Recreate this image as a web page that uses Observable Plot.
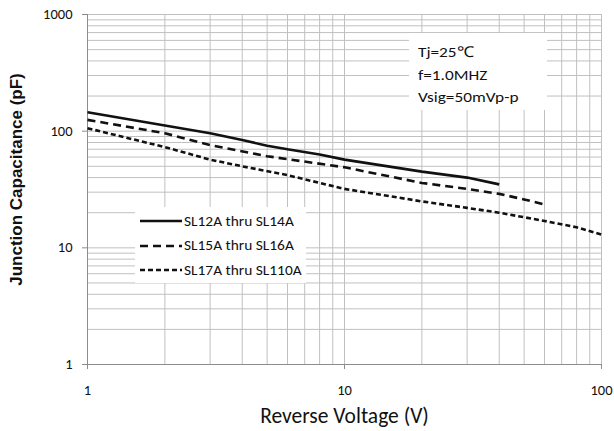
<!DOCTYPE html>
<html>
<head>
<meta charset="utf-8">
<script src="https://cdn.jsdelivr.net/npm/d3@7"></script>
<script src="https://cdn.jsdelivr.net/npm/@observablehq/plot@0.6"></script>
<style>
  body { margin: 0; background: #fff; }
  #wrap { position: relative; width: 614px; height: 431px; font-family: Carlito, "Liberation Sans Narrow", "Liberation Sans", sans-serif; }
  .box { position: absolute; background: #fff; }
  .note { left: 409px; top: 33px; width: 138px; height: 77px; font-size: 15px; color: #111; }
  .note div { position: absolute; left: 9px; line-height: 1; transform: scaleX(1.15); transform-origin: left center; white-space: nowrap; }
  .legend { left: 135px; top: 207px; width: 171px; height: 76px; font-size: 14px; color: #111; }
  .legend .row { position: absolute; left: 5px; height: 14px; display: flex; align-items: center; white-space: nowrap; }
  .legend span { display: inline-block; transform: scaleX(1.1); transform-origin: left center; }
  .legend svg { margin-right: 2px; }
</style>
</head>
<body>
<div id="wrap"></div>
<script>
// Data
const voltsA = [1, 2, 3, 4, 5, 6, 8, 10, 20, 30, 40];
const capA   = [145, 112, 96, 84, 75, 70, 63, 57, 45, 40, 35];
const voltsB = [1, 2, 3, 5, 10, 20, 30, 40, 50, 60];
const capB   = [125, 96, 76, 61, 49, 36, 32, 29, 26, 23.5];
const voltsC = [1, 2, 3, 4, 6, 8, 10, 20, 30, 40, 60, 80, 100];
const capC   = [106, 73, 57, 50, 42, 36, 32, 25, 22, 20, 17, 15, 13];
const seriesNames = ["SL12A thru SL14A", "SL15A thru SL16A", "SL17A thru SL110A"];
const dashes = [null, "8,5", "5,3"];
const xMajor = [1, 10, 100];
const yMajor = [1, 10, 100, 1000];
const xMinor = [2,3,4,5,6,7,8,9,20,30,40,50,60,70,80,90];
const yMinor = [2,3,4,5,6,7,8,9,20,30,40,50,60,70,80,90,200,300,400,500,600,700,800,900];

const rows = (xs, ys, s) => xs.map((x, i) => ({x, y: ys[i], s}));
const data = [
  ...rows(voltsA, capA, seriesNames[0]),
  ...rows(voltsB, capB, seriesNames[1]),
  ...rows(voltsC, capC, seriesNames[2])
];

const font = 'Carlito, "Liberation Sans Narrow", "Liberation Sans", sans-serif';

const chart = Plot.plot({
  width: 614,
  height: 431,
  marginLeft: 87,
  marginRight: 13,
  marginTop: 14,
  marginBottom: 67,
  style: { fontFamily: font, fontSize: "14.5px", color: "#111", background: "#fff" },
  x: { type: "log", domain: [1, 100] },
  y: { type: "log", domain: [1, 1000] },
  marks: [
    Plot.ruleX([...xMinor, ...xMajor], { stroke: "#c0c0c0", strokeWidth: 1 }),
    Plot.ruleY([...yMinor, ...yMajor], { stroke: "#c0c0c0", strokeWidth: 1 }),
    Plot.ruleX([1], { stroke: "#8c8c8c", strokeWidth: 1 }),
    Plot.ruleY([1], { stroke: "#8c8c8c", strokeWidth: 1 }),
    Plot.axisY({ ticks: yMajor, tickFormat: d => String(d), tickSize: 5, tickPadding: 10, stroke: "#8c8c8c", fontSize: 14.5,
      label: "Junction Capacitance (pF)", labelAnchor: "center", labelArrow: "none", labelOffset: 78 }),
    Plot.axisX({ ticks: xMajor, tickFormat: d => String(d), tickSize: 5, tickPadding: 15, stroke: "#8c8c8c", fontSize: 14.5,
      label: "Reverse Voltage (V)", labelAnchor: "center", labelArrow: "none", labelOffset: 58 }),
    ...seriesNames.map((name, i) => Plot.line(data.filter(d => d.s === name), {
      x: "x", y: "y", stroke: "#111", strokeWidth: 2.6, strokeDasharray: dashes[i],
      strokeLinecap: "butt", strokeLinejoin: "miter", curve: "linear"
    }))
  ]
});

// style axis titles
d3.select(chart).selectAll("g[aria-label='y-axis label'] text")
  .style("font-family", '"Liberation Sans", Arial, sans-serif')
  .style("font-size", "17px").style("font-weight", "bold")
  .attr("dx", "10");
d3.select(chart).selectAll("g[aria-label='x-axis label'] text")
  .style("font-size", "21.5px");

const wrap = document.getElementById("wrap");
wrap.appendChild(chart);

// annotation box
const note = document.createElement("div");
note.className = "box note";
["Tj=25℃", "f=1.0MHZ", "Vsig=50mVp-p"].forEach((t, i) => {
  const d = document.createElement("div");
  d.textContent = t;
  d.style.top = (12 + i * 22.5) + "px";
  note.appendChild(d);
});
wrap.appendChild(note);

// legend box
const legend = document.createElement("div");
legend.className = "box legend";
seriesNames.forEach((name, i) => {
  const r = document.createElement("div");
  r.className = "row";
  r.style.top = (7 + i * 24.5) + "px";
  r.innerHTML = `<svg width="42" height="6"><line x1="0" x2="42" y1="3" y2="3" stroke="#111" stroke-width="2.6" ${dashes[i] ? `stroke-dasharray="${dashes[i]}"` : ""}/></svg><span>${name}</span>`;
  legend.appendChild(r);
});
wrap.appendChild(legend);
</script>
</body>
</html>
